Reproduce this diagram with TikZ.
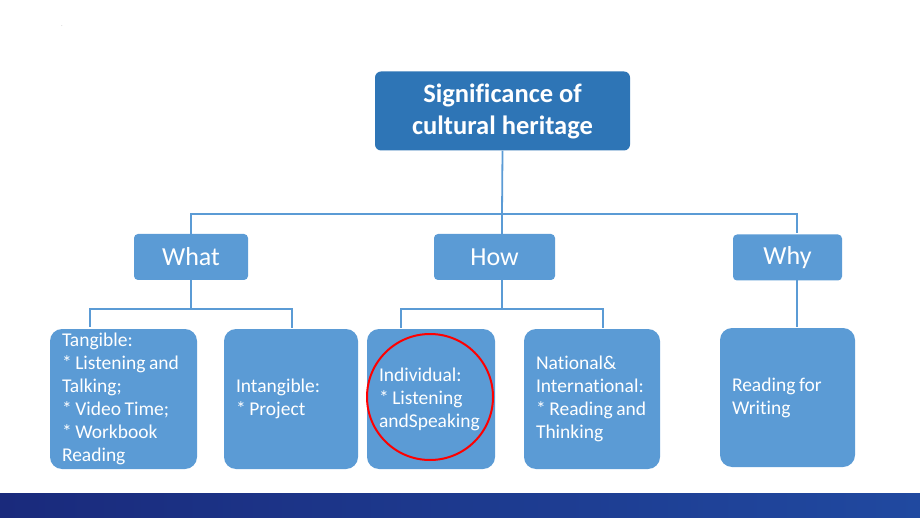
\documentclass[tikz,border=0pt]{standalone}
\usepackage{fontspec}
\setmainfont{Carlito}[Ligatures=NoCommon]
\usetikzlibrary{positioning}

\definecolor{topblue}{HTML}{2E75B6}
\definecolor{boxblue}{HTML}{5B9BD5}
\definecolor{linkblue}{HTML}{5B9BD5}
\definecolor{barleft}{HTML}{1A2A7C}
\definecolor{barright}{HTML}{2049A0}

\begin{document}
\begin{tikzpicture}[
  x=1pt, y=-1pt,
  every node/.style={align=center, text=white, inner sep=0pt},
  titlebox/.style={fill=topblue, rounded corners=6pt, font=\fontsize{26.5}{32}\selectfont\bfseries, minimum width=255pt, minimum height=79pt},
  midbox/.style={fill=boxblue, rounded corners=4pt, font=\fontsize{26}{30}\selectfont, minimum height=46pt},
  leafbox/.style={fill=boxblue, rounded corners=12pt, font=\fontsize{19.5}{23}\selectfont, align=left, inner xsep=12pt, minimum height=140pt,
    execute at begin node={\spaceskip=3.6pt\xspaceskip=3.6pt\relax}},
  link/.style={draw=linkblue, line width=1.8pt}
]
\useasboundingbox (0,0) rectangle (920,518);

% Nodes
\node[titlebox] (title) at (502.5,111) {Significance of\\cultural heritage};
\node[midbox, minimum width=114pt] (what) at (191,257) {What};
\node[midbox, minimum width=121pt] (how) at (494.5,257) {How};
\node[midbox, minimum width=109pt] (why) at (787.5,257.5) {Why};

\node[leafbox, text width=123pt] (tangible) at (123.5,399) {Tangible:\\\relax* Listening and\\Talking;\\\relax* Video Time;\\\relax* Workbook\\Reading};
\node[leafbox, text width=110pt] (intangible) at (291,399) {Intangible:\\\relax* Project};
\node[leafbox, text width=104pt] (individual) at (431,399) {Individual:\\\relax* Listening\\andSpeaking};
\node[leafbox, text width=112pt] (national) at (592,399) {National\&\\International:\\\relax* Reading and\\Thinking};
\node[leafbox, text width=111pt, minimum height=139pt] (reading) at (787.5,397.5) {Reading for\\Writing};

\node[text=gray, font=\tiny] (dot) at (62,26) {.};

% Joints
\coordinate (hub) at (502,214);
\coordinate (whyin) at (797,233);
\coordinate (whyout) at (797,280);
\coordinate (whatbus) at (191,309);
\coordinate (howbus) at (502,309);
\coordinate (tangin) at (90,327);
\coordinate (intangin) at (292,328);
\coordinate (indivin) at (401,328);
\coordinate (natin) at (603,328);
\coordinate (readin) at (797,327);

% Arrows
\draw[link] (title.south) -- (hub);
\draw[link] (what.north) |- (hub) -| (whyin);
\draw[link] (hub) -- (hub |- how.north);
\draw[link] (what.south) -- (whatbus);
\draw[link] (tangin) |- (whatbus) -| (intangin);
\draw[link] (hub |- how.south) -- (howbus);
\draw[link] (indivin) |- (howbus) -| (natin);
\draw[link] (whyout) -- (readin);

% Mark
\node[circle, draw=red, line width=2pt, minimum size=126pt] (mark) at (430,397) {};

% Bar
\shade[left color=barleft, right color=barright] (0,493) rectangle (920,518);
\end{tikzpicture}
\end{document}
